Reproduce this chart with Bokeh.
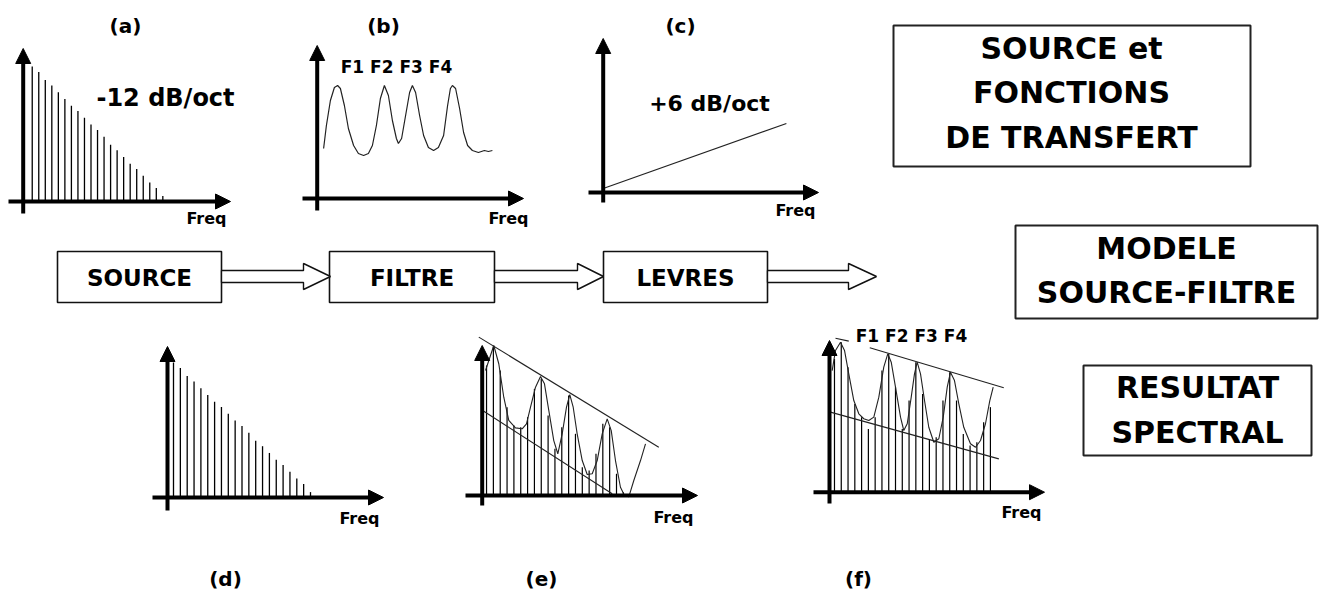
from bokeh.plotting import figure
from bokeh.models import Range1d, Arrow, NormalHead
from bokeh.core.properties import value
from bokeh.embed import file_html
from bokeh.resources import INLINE

# ---------------- data ----------------
HARMONICS = [1, 2, 3, 4, 5, 6, 7, 8, 9, 10, 11, 12, 13, 14, 15, 16, 17, 18, 19, 20, 21]
SOURCE_LEVEL = [100, 96, 90, 86, 81, 76, 71, 67, 62, 57, 53, 48, 42, 38, 33, 28, 24, 19, 14, 10, 4]

FORMANT_HZ = [160, 230, 330, 430, 510, 580, 680, 780, 910, 1030, 1160, 1280, 1380, 1480, 1580,
              1680, 1780, 1880, 1980, 2030, 2110, 2210, 2310, 2380, 2460, 2560, 2660, 2780, 2910,
              3030, 3160, 3260, 3330, 3380, 3460, 3560, 3660, 3760, 3880, 4030, 4180, 4280, 4380]
FORMANT_DB = [25, 36.5, 49, 55.5, 56.5, 55, 46.5, 35, 26.5, 22.5, 21.5, 22.5, 26.5, 36.5, 50,
              56.5, 51.5, 39, 30, 27.5, 30, 41.5, 53, 56.5, 53, 41.5, 31.5, 25.5, 24,
              25.5, 31.5, 46.5, 55, 56.5, 55, 45, 33, 26.5, 24, 23, 24, 23.5, 24]

LIP_HZ = [0, 4580]
LIP_DB = [2, 34.5]

OUT_E_LEVEL = [96.3, 110.4, 92.6, 65.4, 51.9, 50.6, 58.0, 79.0, 86.4, 59.3, 34.6, 50.6, 74.1,
               45.7, 21.0, 18.5, 30.9, 53.1, 50.6, 16.1, 2.4]
E_CURVE_H = [0.85, 2.06, 2.79, 3.52, 4.25, 5.23, 6.21, 6.84, 7.43, 8.16, 8.89, 9.47, 10.10, 10.83,
             11.42, 12.06, 12.69, 13.17, 13.67, 14.25, 14.99, 15.72, 16.45, 17.18, 17.91, 18.64,
             19.23, 19.85, 20.58, 21.17, 21.80, 22.53, 23.51, 24.24]
E_CURVE_L = [92.6, 111.1, 97.6, 72.8, 55.6, 50.1, 49.4, 53.1, 65.4, 80.2, 88.1, 82.7, 63.0, 40.7,
             30.9, 45.7, 65.4, 74.8, 65.4, 45.7, 25.9, 15.6, 16.1, 25.9, 45.7, 56.8,
             48.1, 25.9, 6.1, 0.0, -1.0, 11.1, 25.9, 38.3]
E_UPPER_H = [-0.13, 26.18]
E_UPPER_L = [117.3, 35.8]
E_LOWER_H = [0.6, 19.37]
E_LOWER_L = [62.4, 1.3]

HARMONICS_F = [1, 2, 3, 4, 5, 6, 7, 8, 9, 10, 11, 12, 13, 14, 15, 16, 17, 18, 19, 20, 21, 22, 23, 24]
OUT_F_LEVEL = [98.7, 111.1, 92.6, 65.4, 55.6, 46.9, 55.6, 90.1, 102.4, 77.8, 46.9, 67.9, 96.3,
               72.8, 39.5, 40.7, 67.9, 88.9, 67.9, 43.2, 34.6, 37.0, 51.9, 63.0]
F_CURVE_H = [0.66, 1.15, 1.89, 2.48, 3.11, 3.85, 4.59, 5.32, 6.06, 6.80, 7.54, 8.27, 8.86, 9.37,
             10.0, 10.74, 11.22, 11.73, 12.32, 12.80, 13.2, 13.69, 14.28, 14.91, 15.65, 16.39,
             17.04, 17.63, 18.11, 18.70, 19.34, 20.07, 21.06, 21.80, 22.54, 23.27, 23.91, 24.41]
F_CURVE_L = [90.1, 105, 111.1, 105, 87.7, 67.9, 58.1, 54.4, 53.1, 55.6, 70.4, 92.6, 102.5, 96.3,
             77.8, 55.6, 45.7, 50.7, 70.4, 87.7, 96.3, 87.7, 67.9, 48.1, 37.0, 39.6,
             55.6, 77.8, 88.9, 82.7, 65.5, 48.1, 35.9, 33.3, 38.3, 50.7, 67.9, 77.8]
F_UPPER_H = [6.21, 25.97]
F_UPPER_L = [107, 77.3]
F_PEAK_H = [1.15, 3.11]
F_PEAK_L = [114.1, 111.9]
F_LOWER_H = [0.41, 25.24]
F_LOWER_L = [59.3, 24.7]

PANEL_LABELS = ["(a)", "(b)", "(c)", "(d)", "(e)", "(f)"]
FORMANT_LABEL = "F1 F2 F3 F4"
FLOW_STAGES = ["SOURCE", "FILTRE", "LEVRES"]
BOX1_LINES = ["SOURCE et", "FONCTIONS", "DE TRANSFERT"]
BOX2_LINES = ["MODELE", "SOURCE-FILTRE"]
BOX3_LINES = ["RESULTAT", "SPECTRAL"]

# ---------------- figure ----------------
W, H = 1322, 594
XL, XR, YT, YB = 0, 1322, 0, 594

p = figure(width=W, height=H, x_range=Range1d(XL, XR), y_range=Range1d(YB, YT),
           output_backend="svg", toolbar_location=None,
           x_axis_location=None, y_axis_location=None, min_border=0,
           outline_line_color=None, background_fill_color="white",
           border_fill_color="white")
p.xgrid.visible = False
p.ygrid.visible = False

FONT = value("DejaVu Sans")


def panel(name, X0, Y0, sx, sy):
    p.extra_x_ranges[name + "x"] = Range1d((XL - X0) / sx, (XR - X0) / sx)
    p.extra_y_ranges[name + "y"] = Range1d((Y0 - YB) / sy, (Y0 - YT) / sy)
    return dict(x_range_name=name + "x", y_range_name=name + "y")


def label(x, y, t, size, font=FONT, style="bold", color="black"):
    p.text(x=[x], y=[y], text=[t], text_font=font, text_font_size=f"{size}px",
           text_font_style=style, text_align="center", text_baseline="middle",
           text_color=color)


def axis_arrow(x0, y0, x1, y1):
    p.add_layout(Arrow(end=NormalHead(size=15, fill_color="black", line_color="black", line_width=1),
                       x_start=x0, y_start=y0, x_end=x1, y_end=y1,
                       line_width=4, line_color="black"))


def panel_axes(ax, ay, ybottom, ytip, xleft, xtip):
    axis_arrow(ax, ybottom, ax, ytip)
    axis_arrow(xleft, ay, xtip, ay)


# ---- panel (a): source spectrum
ra = panel("a", 25.2, 201, 6.53, 1.35)
p.segment(x0=HARMONICS, y0=[0] * len(HARMONICS), x1=HARMONICS, y1=SOURCE_LEVEL,
          line_color="black", line_width=1.3, **ra)
panel_axes(22.7, 201, 213, 48, 8, 230)
label(125, 25, PANEL_LABELS[0], 20)
label(165, 97, "-12 dB/oct", 24)
label(206, 218, "Freq", 16)

# ---- panel (b): filter (formants)
rb = panel("b", 316.7, 198, 0.04, 2.0)
p.line(FORMANT_HZ, FORMANT_DB, line_color="#222222", line_width=1.2, **rb)
panel_axes(316.7, 198, 210, 45, 302, 523)
label(383, 25, PANEL_LABELS[1], 20)
label(396, 66, FORMANT_LABEL, 17)
label(508, 218, "Freq", 16)

# ---- panel (c): lip radiation
rc = panel("c", 602.7, 192, 0.04, 2.0)
p.line(LIP_HZ, LIP_DB, line_color="#222222", line_width=1.2, **rc)
panel_axes(602.7, 192, 202, 38, 588, 818)
label(680, 25, PANEL_LABELS[2], 20)
label(709, 103, "+6 dB/oct", 22)
label(795, 210, "Freq", 16)

# ---- panel (d): source spectrum again
rd = panel("d", 166.15, 497, 6.85, 1.35)
p.segment(x0=HARMONICS, y0=[0] * len(HARMONICS), x1=HARMONICS, y1=SOURCE_LEVEL,
          line_color="black", line_width=1.3, **rd)
panel_axes(167, 497, 510, 346, 152, 383)
label(359, 518, "Freq", 16)

# ---- panel (e): source x filter
re_ = panel("e", 479.2, 495, 6.84, 1.35)
p.segment(x0=HARMONICS, y0=[0] * len(HARMONICS), x1=HARMONICS, y1=OUT_E_LEVEL,
          line_color="black", line_width=1.2, **re_)
p.line(E_CURVE_H, E_CURVE_L, line_color="#222222", line_width=1.1, **re_)
p.line(E_UPPER_H, E_UPPER_L, line_color="#222222", line_width=1.1, **re_)
p.line(E_LOWER_H, E_LOWER_L, line_color="#222222", line_width=1.1, **re_)
panel_axes(481.7, 495, 505, 345, 465, 697)
label(673, 517, "Freq", 16)

# ---- panel (f): source x filter x lips
rf = panel("f", 827.2, 491.7, 6.78, 1.35)
p.segment(x0=HARMONICS_F, y0=[0] * len(HARMONICS_F), x1=HARMONICS_F, y1=OUT_F_LEVEL,
          line_color="black", line_width=1.2, **rf)
p.line(F_CURVE_H, F_CURVE_L, line_color="#222222", line_width=1.1, **rf)
p.line(F_UPPER_H, F_UPPER_L, line_color="#222222", line_width=1.1, **rf)
p.line(F_PEAK_H, F_PEAK_L, line_color="#222222", line_width=1.1, **rf)
p.line(F_LOWER_H, F_LOWER_L, line_color="#222222", line_width=1.1, **rf)
panel_axes(829, 491.7, 503, 340, 813, 1044)
label(911, 335, FORMANT_LABEL, 17)
label(1021, 512, "Freq", 16)

# bottom panel labels
label(225, 578, PANEL_LABELS[3], 20)
label(541, 578, PANEL_LABELS[4], 20)
label(858, 578, PANEL_LABELS[5], 20)

# ---- flow: SOURCE -> FILTRE -> LEVRES ->
flow_boxes = [(57, 221), (329, 494), (603, 767)]
p.quad(left=[b[0] for b in flow_boxes], right=[b[1] for b in flow_boxes],
       top=[251] * 3, bottom=[302] * 3, fill_color=None, line_color="#111111", line_width=1.6)
for (l, r), name in zip(flow_boxes, FLOW_STAGES):
    label((l + r) / 2, 277, name, 23)

hollow = [(221, 303, 330), (494, 577, 603), (767, 848, 876)]
for x0, xs, tip in hollow:
    p.patch([x0, xs, xs, tip, xs, xs, x0], [270, 270, 263, 276, 289, 282, 282],
            fill_color="white", line_color="#111111", line_width=1.4)

# ---- right-hand title boxes
p.quad(left=[893], right=[1250], top=[25], bottom=[166], fill_color=None,
       line_color="#222222", line_width=2)
for yy, t in zip([48, 92, 137], BOX1_LINES):
    label(1071, yy, t, 30)

p.quad(left=[1015], right=[1317], top=[225], bottom=[318], fill_color=None,
       line_color="#222222", line_width=2)
for yy, t in zip([248, 292], BOX2_LINES):
    label(1166, yy, t, 30)

p.quad(left=[1083], right=[1311], top=[365], bottom=[455], fill_color=None,
       line_color="#222222", line_width=2)
for yy, t in zip([387, 432], BOX3_LINES):
    label(1197, yy, t, 30)

open("out.html", "w").write(file_html(p, INLINE))
